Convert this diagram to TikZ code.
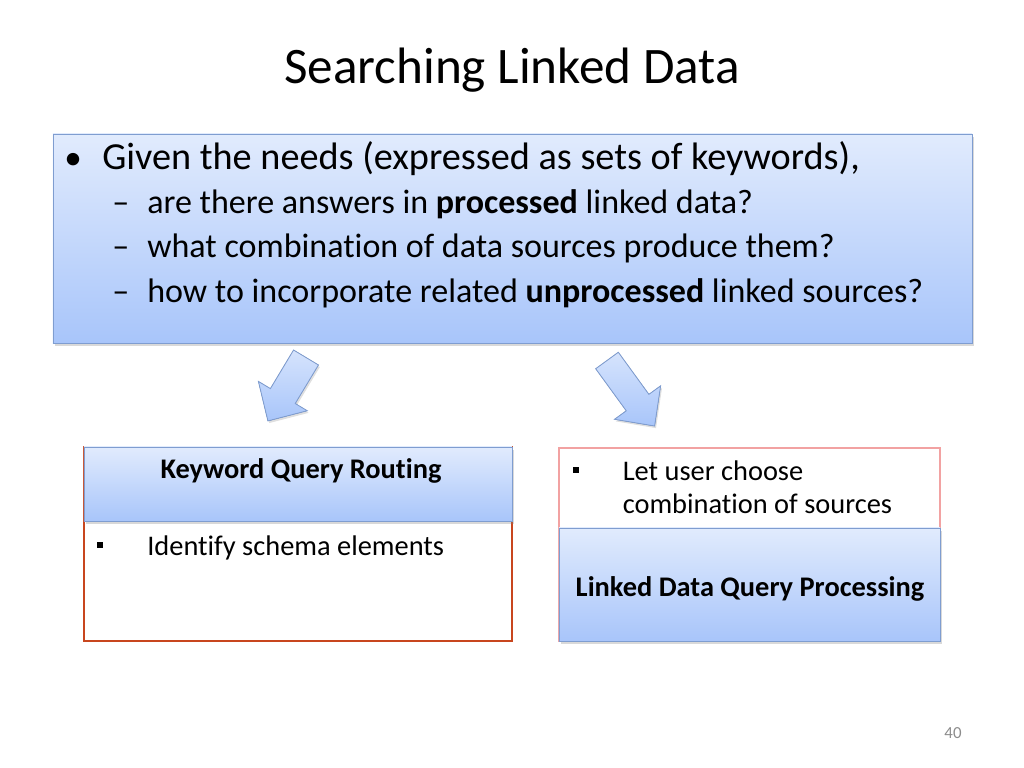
\documentclass[tikz,border=0pt]{standalone}
\usepackage{fontspec}
\setmainfont{Carlito}[Ligatures=CommonOff]
\usetikzlibrary{positioning,shadows}
\definecolor{boxtop}{HTML}{E1EBFD}
\definecolor{boxbot}{HTML}{A8C5FA}
\definecolor{boxline}{HTML}{7F9DD0}
\definecolor{routeline}{HTML}{C8461E}
\definecolor{procline}{HTML}{F2A2A2}
\definecolor{pagegray}{HTML}{8C8C8C}
\tikzset{bluebox/.style = {draw=boxline, top color=boxtop, bottom color=boxbot, drop shadow={opacity=0.3, shadow xshift=1.5pt, shadow yshift=-2pt}}}
\tikzset{outline/.style = {draw, line width=1.3pt, fill=white}}
\tikzset{bigarrow/.style = {draw=boxline, semithick, top color=boxtop!80!boxbot, bottom color=boxbot, drop shadow={opacity=0.25, shadow xshift=1pt, shadow yshift=-1.5pt}}}
\tikzset{lineone/.style = {anchor=base west, inner sep=0pt, font=\fontsize{27.2}{33}\selectfont}}
\tikzset{linetwo/.style = {anchor=base west, inner sep=0pt, font=\fontsize{24.2}{29}\selectfont}}
\tikzset{boxtext/.style = {anchor=base west, inner sep=0pt, font=\fontsize{20.2}{24}\selectfont}}
\tikzset{boxhead/.style = {anchor=base, inner sep=0pt, font=\fontsize{20.2}{24}\selectfont\bfseries}}
\newcommand{\sqbullet}{\rule[5pt]{4.4pt}{4.4pt}}

\begin{document}
\begin{tikzpicture}[x=0.025cm, y=-0.025cm]
  \useasboundingbox (0,0) rectangle (1024,768);

  \node [anchor=base, inner sep=0pt, font=\fontsize{36.4}{44}\selectfont] (title) at (512,84) {Searching Linked Data};

  % needs box
  \node [bluebox, minimum width=22.975cm, minimum height=5.225cm] (needs) at (512.5,238.5) {};
  \node [lineone, font=\fontsize{25}{30}\selectfont] (b0) at (64,169.5) {•};
  \node [lineone] (l0) at (102,169.5) {Given the needs (expressed as sets of keywords),};
  \node [linetwo] (d1) at (112,213) {–};
  \node [linetwo] (l1) at (147,213) {are there answers in \textbf{processed} linked data?};
  \node [linetwo] (d2) at (112,257.5) {–};
  \node [linetwo] (l2) at (147,257.5) {what combination of data sources produce them?};
  \node [linetwo] (d3) at (112,302) {–};
  \node [linetwo] (l3) at (147,302) {how to incorporate related \textbf{unprocessed} linked sources?};

  % arrows
  \begin{scope}[shift={(306,357.5)}, rotate=-121]
    \filldraw [bigarrow] (0,-14.5) -- (45,-14.5) -- (45,-28.5) -- (74,0) -- (45,28.5) -- (45,14.5) -- (0,14.5) -- cycle;
  \end{scope}
  \begin{scope}[shift={(607,360.5)}, rotate=-54]
    \filldraw [bigarrow] (0,-14) -- (52,-14) -- (52,-28.5) -- (81,0) -- (52,28.5) -- (52,14) -- (0,14) -- cycle;
  \end{scope}

  % keyword query routing
  \node [outline, draw=routeline, minimum width=10.7cm, minimum height=4.85cm] (kqr) at (298,544) {};
  \node [bluebox, minimum width=10.7cm, minimum height=1.85cm] (kqrhead) at (298,484) {};
  \node [boxhead] (kqrtitle) at (301,478) {Keyword Query Routing};
  \node [boxtext] (kqrb) at (97,555) {\sqbullet};
  \node [boxtext] (kqr1) at (147,555) {Identify schema elements};

  % linked data query processing
  \node [outline, draw=procline, minimum width=9.525cm, minimum height=4.825cm] (ldqp) at (749.5,544.5) {};
  \node [boxtext] (ldqpb) at (573,480) {\sqbullet};
  \node [boxtext] (ldqp1) at (622.5,480) {Let user choose};
  \node [boxtext] (ldqp2) at (622.5,513) {combination of sources};
  \node [bluebox, minimum width=9.525cm, minimum height=2.825cm] (ldqphead) at (749.5,584.5) {};
  \node [boxhead] (ldqptitle) at (750,596.5) {Linked Data Query Processing};

  \node [inner sep=0pt, text=pagegray, font=\fontsize{12}{14}\selectfont] (page) at (953,733) {40};
\end{tikzpicture}
\end{document}
